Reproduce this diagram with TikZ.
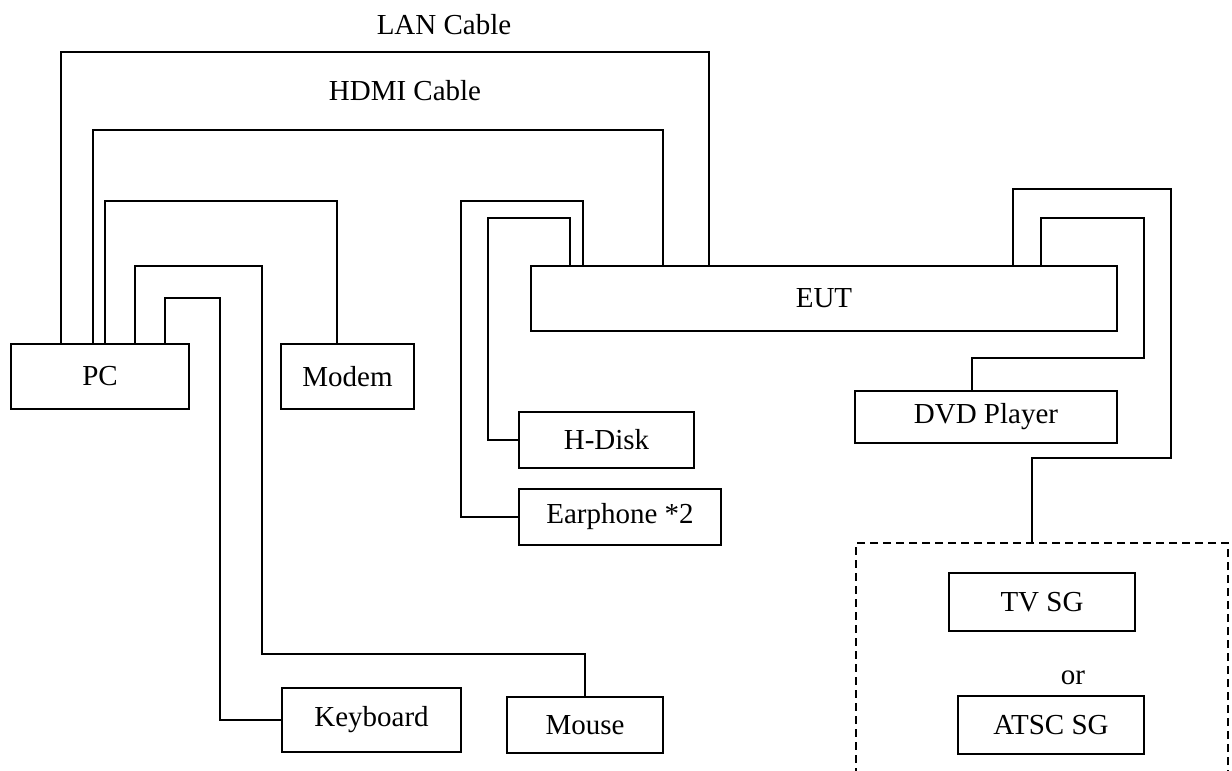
\documentclass[tikz,border=0pt]{standalone}
\usepackage{fontspec}
\setmainfont{Liberation Serif}
\usepackage{tikz}
\usetikzlibrary{positioning}

\begin{document}
\begin{tikzpicture}[x=0.5pt, y=-0.5pt,
	unit/.style={draw, line width=0.6pt, inner sep=0pt, font=\fontsize{14.5}{17}\selectfont},
	cable/.style={line width=0.55pt},
	lbl/.style={inner sep=0pt, font=\fontsize{14.5}{17}\selectfont}]
	\useasboundingbox (0,0) rectangle (1232,771);
	
	% equipamentos
	\node[unit, minimum width=89pt, minimum height=32.5pt] (pc) at (100,376.5) {PC};
	\node[unit, minimum width=66.5pt, minimum height=32.5pt] (modem) at (347.5,376.5) {Modem};
	\node[unit, minimum width=293pt, minimum height=32.5pt] (eut) at (824,298.5) {EUT};
	\node[unit, minimum width=87.5pt, minimum height=28pt] (hdisk) at (606.5,440) {H-Disk};
	\node[unit, minimum width=101pt, minimum height=28pt] (earphone) at (620,517) {Earphone *2};
	\node[unit, minimum width=131pt, minimum height=26pt] (dvd) at (986,417) {DVD Player};
	\node[unit, minimum width=89.5pt, minimum height=32pt] (keyboard) at (371.5,720) {Keyboard};
	\node[unit, minimum width=78pt, minimum height=28pt] (mouse) at (585,725) {Mouse};
	
	% geradores de sinal
	\node[draw, line width=0.6pt, dash pattern=on 4pt off 2.5pt, minimum width=186pt, minimum height=120pt] (sgbox) at (1042,663) {};
	\node[unit, minimum width=93pt, minimum height=29pt] (tvsg) at (1042,602) {TV SG};
	\node[lbl] (orlabel) at (1073,678) {or};
	\node[unit, minimum width=93pt, minimum height=29pt] (atscsg) at (1051,725) {ATSC SG};
	
	% rotulos
	\node[lbl] (lanlabel) at (444,25) {LAN Cable};
	\node[lbl] (hdmilabel) at (405,91) {HDMI Cable};
	
	% cabos do PC
	\draw[cable] (pc.north -| 61,0) |- (709,52) -- (eut.north -| 709,0);
	\draw[cable] (pc.north -| 93,0) |- (663,130) -- (eut.north -| 663,0);
	\draw[cable] (pc.north -| 105,0) |- (337,201) -- (modem.north -| 337,0);
	\draw[cable] (pc.north -| 135,0) |- (262,266) -- (262,654) -| (mouse.north);
	\draw[cable] (pc.north -| 165,0) |- (220,298) |- (keyboard.west);
	
	% cabos do EUT
	\draw[cable] (eut.north -| 570,0) |- (488,218) |- (hdisk.west);
	\draw[cable] (eut.north -| 583,0) |- (461,201) |- (earphone.west);
	\draw[cable] (eut.north -| 1041,0) |- (1144,218) |- (972,358) -- (dvd.north -| 972,0);
	\draw[cable] (eut.north -| 1013,0) |- (1171,189) |- (1032,458) -- (sgbox.north -| 1032,0);
\end{tikzpicture}
\end{document}
